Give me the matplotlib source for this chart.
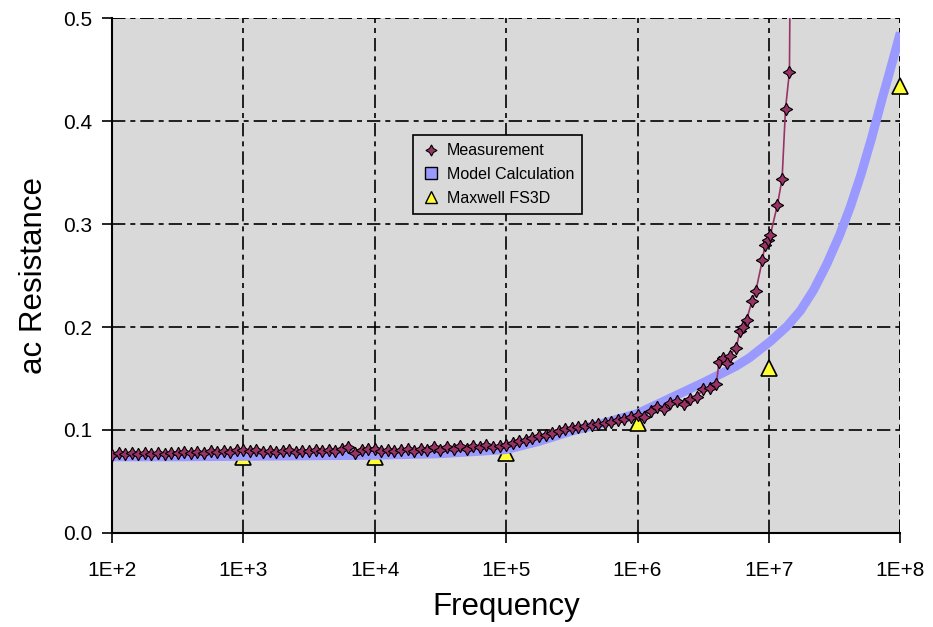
import numpy as np
import matplotlib.pyplot as plt
from matplotlib.lines import Line2D

plt.rcParams['font.family'] = ['Liberation Sans', 'DejaVu Sans']

# measurement: log10(frequency) and resistance
meas_logf = [2.00, 2.05, 2.10, 2.15, 2.20, 2.25, 2.30, 2.35, 2.40, 2.45,
             2.50, 2.55, 2.60, 2.65, 2.70, 2.75, 2.80, 2.85, 2.90, 2.95,
             3.00, 3.05, 3.10, 3.15, 3.20, 3.25, 3.30, 3.35, 3.40, 3.45,
             3.50, 3.55, 3.60, 3.65, 3.70, 3.75, 3.80, 3.85, 3.90, 3.95,
             4.00, 4.05, 4.10, 4.15, 4.20, 4.25, 4.30, 4.35, 4.40, 4.45,
             4.50, 4.55, 4.60, 4.65, 4.70, 4.75, 4.80, 4.85, 4.90, 4.95,
             5.00, 5.05, 5.10, 5.15, 5.20, 5.25, 5.30, 5.35, 5.40, 5.45,
             5.50, 5.55, 5.60, 5.65, 5.70, 5.75, 5.80, 5.85, 5.90, 5.95,
             6.00, 6.05, 6.10, 6.15, 6.20, 6.25, 6.30, 6.35, 6.40, 6.45,
             6.50, 6.55, 6.60, 6.62, 6.65, 6.68, 6.70, 6.75, 6.78, 6.80,
             6.83, 6.87, 6.90, 6.95, 6.97, 6.99, 7.01, 7.065, 7.10, 7.126,
             7.156, 7.17]
meas_r = [0.076, 0.078, 0.077, 0.078, 0.077, 0.078, 0.077, 0.078, 0.077, 0.078,
          0.078, 0.079, 0.078, 0.079, 0.078, 0.080, 0.079, 0.080, 0.079, 0.081,
          0.081, 0.080, 0.081, 0.079, 0.080, 0.079, 0.080, 0.081, 0.079, 0.080,
          0.080, 0.081, 0.080, 0.081, 0.080, 0.082, 0.083, 0.078, 0.081, 0.082,
          0.082, 0.080, 0.081, 0.080, 0.081, 0.082, 0.080, 0.082, 0.081, 0.083,
          0.081, 0.083, 0.082, 0.084, 0.082, 0.084, 0.083, 0.085, 0.083, 0.084,
          0.085, 0.087, 0.089, 0.090, 0.092, 0.094, 0.095, 0.097, 0.099, 0.101,
          0.102, 0.103, 0.104, 0.105, 0.106, 0.107, 0.108, 0.110, 0.111, 0.113,
          0.115, 0.113, 0.118, 0.122, 0.120, 0.126, 0.128, 0.125, 0.130, 0.132,
          0.140, 0.141, 0.145, 0.166, 0.170, 0.165, 0.172, 0.180, 0.196, 0.200,
          0.207, 0.225, 0.235, 0.265, 0.280, 0.285, 0.289, 0.319, 0.344, 0.412,
          0.448, 0.700]

# model calculation
model_logf = [2.0, 2.5, 3.0, 3.5, 4.0, 4.5, 5.0, 5.25, 5.5, 5.75, 6.0, 6.25,
              6.5, 6.75, 6.85, 6.93, 7.01, 7.14, 7.24, 7.34, 7.44, 7.54,
              7.62, 7.70, 7.78, 7.86, 7.93, 8.0]
model_r = [0.074, 0.074, 0.0745, 0.075, 0.0755, 0.077, 0.081, 0.089, 0.099,
           0.107, 0.116, 0.131, 0.146, 0.162, 0.170, 0.178, 0.186, 0.201,
           0.216, 0.236, 0.261, 0.290, 0.317, 0.348, 0.383, 0.421, 0.453, 0.486]

# Maxwell FS3D
fs3d_f = [1e3, 1e4, 1e5, 1e6, 1e7, 1e8]
fs3d_r = [0.074, 0.074, 0.078, 0.107, 0.160, 0.434]

xticks = [1e2, 1e3, 1e4, 1e5, 1e6, 1e7, 1e8]
xlabels = ['1E+2', '1E+3', '1E+4', '1E+5', '1E+6', '1E+7', '1E+8']
yticks = [0.0, 0.1, 0.2, 0.3, 0.4, 0.5]

meas_f = 10 ** np.array(meas_logf)
model_f = 10 ** np.array(model_logf)

fig = plt.figure(figsize=(9.33, 6.27), dpi=100)
ax = fig.add_axes([0.120, 0.150, 0.845, 0.821])
ax.set_facecolor('#d9d9d9')

star = (4, 1, 0)
dash = (0, (8, 3, 3, 3))
ax.plot(fs3d_f, fs3d_r, linestyle='none', marker='^', markersize=11,
        markerfacecolor='#ffff33', markeredgecolor='black', markeredgewidth=1.2,
        zorder=3, clip_on=False)
ax.plot(model_f, model_r, color='#9999ff', linewidth=6.5, solid_capstyle='butt',
        solid_joinstyle='round', zorder=4)
ax.plot(meas_f, meas_r, color='#993366', linewidth=1.2, marker=star, markersize=9,
        markerfacecolor='#993366', markeredgecolor='black', markeredgewidth=0.8, zorder=5)

ax.set_xscale('log')
ax.set_xlim(1e2, 1e8)
ax.set_ylim(0, 0.5)
ax.set_xticks(xticks)
ax.set_xticklabels(xlabels)
ax.minorticks_off()
ax.set_yticks(yticks)
ax.set_yticklabels(['%.1f' % v for v in yticks])
ax.tick_params(direction='out', length=7, width=1.2, labelsize=15, color='black')
ax.tick_params(axis='x', pad=13)
ax.tick_params(axis='y', pad=7)

ax.grid(True, color='black', linestyle=dash, linewidth=1.2)
ax.set_axisbelow(True)
for s in ['top', 'right']:
    ax.spines[s].set_visible(False)
for s in ['left', 'bottom']:
    ax.spines[s].set_linewidth(1.5)
ax.axhline(0.5, color='black', linestyle=dash, linewidth=1.2, zorder=1)
ax.axvline(1e8, color='black', linestyle=dash, linewidth=1.2, zorder=1)

ax.set_xlabel('Frequency', fontsize=22.5, labelpad=9)
ax.set_ylabel('ac Resistance', fontsize=22.5, labelpad=10)

handles = [
    Line2D([], [], linestyle='none', marker=star, markersize=8, markerfacecolor='#993366',
           markeredgecolor='black', markeredgewidth=0.8),
    Line2D([], [], linestyle='none', marker='s', markersize=8, markerfacecolor='#9999ff',
           markeredgecolor='black', markeredgewidth=1.0),
    Line2D([], [], linestyle='none', marker='^', markersize=9, markerfacecolor='#ffff33',
           markeredgecolor='black', markeredgewidth=1.0),
]
leg = ax.legend(handles, ['Measurement', 'Model Calculation', 'Maxwell FS3D'],
                loc='upper left', bbox_to_anchor=(0.372, 0.788), fontsize=11.5,
                frameon=True, fancybox=False, framealpha=1, edgecolor='black',
                facecolor='#d9d9d9', handletextpad=0.4, borderpad=0.5,
                labelspacing=0.55, handlelength=1.2)
leg.get_frame().set_linewidth(1.2)

fig.savefig('out.png', dpi=100, facecolor='white')
